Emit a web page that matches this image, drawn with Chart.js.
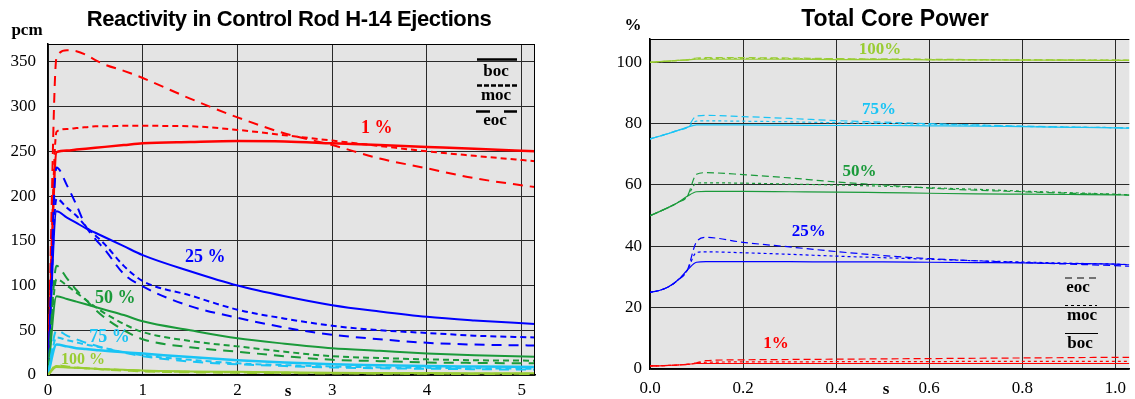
<!DOCTYPE html>
<html>
<head>
<meta charset="utf-8">
<script src="https://cdn.jsdelivr.net/npm/chart.js@4/dist/chart.umd.min.js"></script>
<style>
    body { margin: 0; background: #fff; }
    #wrap { position: relative; width: 1135px; height: 399px; }
    .box { position: absolute; top: 0; height: 399px; }
</style>
</head>
<body>
<div id="wrap">
    <div class="box" style="left:0;width:560px"><canvas id="react"></canvas></div>
    <div class="box" style="left:575px;width:560px"><canvas id="power"></canvas></div>
</div>
<script>
// time axis (s) of the reactivity chart
const reactTime = [0, 0.09, 0.2, 0.3, 0.4, 0.5, 0.6, 0.8, 1, 1.5, 2, 2.5, 3, 3.5, 4, 4.5, 5.14];

// reactivity (pcm) per power level, boc / moc / eoc
const r1boc   = [0, 249, 251, 252, 253, 254, 255, 257, 259, 260.5, 261.5, 261, 259, 257, 255, 253, 250];
const r1moc   = [0, 272, 275, 276, 277, 278, 278, 278.5, 278.5, 278, 274, 268, 262, 256, 250, 245, 239];
const r1eoc   = [0, 355, 363, 362, 358, 352, 347, 340, 332, 309, 288, 270, 257, 242, 231, 220, 210];
const r25boc  = [0, 183, 176, 170, 164, 159, 154, 144, 134, 116, 100, 88, 78, 71, 65, 61, 57];
const r25moc  = [0, 197, 187, 178, 166, 156, 146, 122, 105, 89, 73, 63, 55, 50, 47, 44, 42];
const r25eoc  = [0, 232, 212, 190, 166, 152, 140, 113, 99, 77, 64, 53, 45, 40, 36, 34, 33];
const r50boc  = [0, 88, 85, 82, 79, 76, 73, 67, 60, 50, 41, 35, 30, 27, 24, 22, 20.5];
const r50moc  = [0, 107, 100, 92, 84, 76, 69, 57, 48, 38, 32, 26, 21, 19, 17.5, 16.5, 16];
const r50eoc  = [0, 122, 108, 95, 84, 73, 64, 50, 40, 31, 26, 21, 17, 15.5, 14, 13.5, 13];
const r75boc  = [0, 34, 32, 30, 29, 28, 27, 25.5, 24, 20, 16.5, 14, 12, 11, 10, 9.5, 9];
const r75moc  = [0, 42, 39, 36.5, 34, 32, 30, 25.5, 22, 17, 13, 11, 9.5, 8.5, 8, 7.5, 7];
const r75eoc  = [0, 50, 44, 40, 36, 33, 30, 25, 21, 15, 12, 10, 8.5, 7.5, 7, 6.5, 6];
const r100boc = [0, 9, 8.5, 8, 7.5, 7, 6.5, 6, 5, 4, 3.5, 3, 2.5, 2.3, 2.1, 2, 2];
const r100moc = [0, 10, 9, 8, 7.5, 7, 6.5, 5.5, 4.5, 3.5, 3, 2.5, 2, 1.8, 1.6, 1.5, 1.5];
const r100eoc = [0, 11, 9.5, 8.5, 7.5, 7, 6, 5, 4, 3, 2.5, 2, 1.7, 1.5, 1.3, 1.2, 1.2];

// time axis (s) of the power chart
const powerTime = [0, 0.02, 0.04, 0.06, 0.08, 0.1, 0.12, 0.2, 0.3, 0.4, 0.5, 0.6, 0.7, 0.8, 0.9, 1.0, 1.03];

// total core power (%) per power level, boc / moc / eoc
const p100boc = [100, 100.2, 100.4, 100.6, 100.8, 101, 101, 101, 101, 100.9, 100.9, 100.8, 100.8, 100.7, 100.7, 100.6, 100.6];
const p100moc = [100, 100.2, 100.4, 100.6, 100.8, 101.2, 101.3, 101.3, 101.2, 101.1, 101, 100.9, 100.8, 100.8, 100.7, 100.7, 100.6];
const p100eoc = [100, 100.2, 100.4, 100.6, 100.8, 101.4, 101.5, 101.5, 101.4, 101.2, 101.1, 101, 100.9, 100.8, 100.8, 100.7, 100.7];
const p75boc  = [75, 75.9, 76.8, 77.8, 78.8, 79.6, 79.6, 79.6, 79.5, 79.4, 79.4, 79.3, 79.2, 79.0, 78.8, 78.6, 78.5];
const p75moc  = [75, 75.9, 76.8, 77.8, 78.8, 80.8, 80.9, 80.8, 80.6, 80.3, 80.1, 79.8, 79.5, 79.1, 78.9, 78.7, 78.6];
const p75eoc  = [75, 75.9, 76.8, 77.8, 78.8, 82.5, 82.7, 82.3, 81.7, 81.0, 80.5, 80.0, 79.6, 79.2, 78.9, 78.7, 78.6];
const p50boc  = [50, 51.3, 52.7, 54.3, 56.3, 57.8, 57.9, 57.9, 57.8, 57.7, 57.5, 57.3, 57.1, 57.0, 56.9, 56.8, 56.7];
const p50moc  = [50, 51.3, 52.7, 54.3, 56.3, 60.6, 60.7, 60.6, 60.3, 60.0, 59.6, 59.1, 58.6, 58.0, 57.5, 57.0, 56.8];
const p50eoc  = [50, 51.3, 52.7, 54.3, 56.3, 63.5, 64.0, 63.4, 62.3, 61.0, 60.0, 59.0, 58.3, 57.8, 57.3, 56.9, 56.7];
const p25boc  = [25, 25.6, 26.8, 29.0, 32.2, 34.8, 35, 35, 35, 34.9, 34.9, 34.8, 34.7, 34.6, 34.4, 34.2, 34.0];
const p25moc  = [25, 25.6, 26.8, 29.0, 32.2, 38.0, 38.2, 37.9, 37.4, 36.8, 36.3, 35.8, 35.3, 34.9, 34.5, 34.2, 34.0];
const p25eoc  = [25, 25.6, 26.8, 29.0, 32.2, 41.5, 42.9, 41.3, 39.8, 38.3, 37.0, 36.0, 35.3, 34.7, 34.2, 33.7, 33.5];
const p1boc   = [1, 1.05, 1.15, 1.3, 1.5, 1.8, 1.8, 1.8, 1.8, 1.8, 1.8, 1.8, 1.8, 1.8, 1.8, 1.8, 1.8];
const p1moc   = [1, 1.05, 1.15, 1.3, 1.5, 1.9, 2.2, 2.3, 2.3, 2.4, 2.4, 2.4, 2.5, 2.5, 2.5, 2.5, 2.5];
const p1eoc   = [1, 1.05, 1.15, 1.3, 1.5, 2.0, 2.7, 3.0, 3.1, 3.2, 3.3, 3.4, 3.5, 3.6, 3.7, 3.8, 3.8];

// tick values
const reactXTicks = [0, 1, 2, 3, 4, 5];
const reactYTicks = [0, 50, 100, 150, 200, 250, 300, 350];
const powerXTicks = [0, 0.2, 0.4, 0.6, 0.8, 1.0];
const powerYTicks = [0, 20, 40, 60, 80, 100];

const RED = "#ff0000", BLUE = "#0000ff", GREEN = "#1a9a3a", SKY = "#19c4f5", LIME = "#99cc33";
const SERIF = "'Liberation Serif', 'Times New Roman', serif";
const SANS = "'Liberation Sans', Arial, sans-serif";

function pts(time, vals) {
    return time.map((t, i) => ({ x: t, y: vals[i] }));
}

function line(time, vals, color, kind, width) {
    let dash = [];
    if (kind === "moc") dash = width > 1.5 ? [6, 4] : [3, 3];
    if (kind === "eoc") dash = width > 1.5 ? [10, 7] : [7, 4];
    return {
        data: pts(time, vals),
        borderColor: color,
        borderWidth: width,
        borderDash: dash,
        pointRadius: 0,
        fill: false,
        cubicInterpolationMode: "monotone"
    };
}

// gray plot area, frame, titles and hand placed labels
function decorPlugin(cfg) {
    return {
        id: "decor",
        beforeDraw(chart) {
            const a = chart.chartArea, ctx = chart.ctx;
            ctx.save();
            ctx.fillStyle = "#e4e4e4";
            ctx.fillRect(a.left, a.top, a.right - a.left, a.bottom - a.top);
            ctx.restore();
        },
        afterDraw(chart) {
            const a = chart.chartArea, ctx = chart.ctx;
            const xs = chart.scales.x, ys = chart.scales.y;
            ctx.save();
            ctx.strokeStyle = "#000";
            ctx.lineWidth = 1;
            ctx.beginPath();
            ctx.moveTo(a.left, a.top + 0.5);
            ctx.lineTo(a.right, a.top + 0.5);
            if (cfg.rightFrame) {
                ctx.moveTo(a.right - 0.5, a.top);
                ctx.lineTo(a.right - 0.5, a.bottom);
            }
            ctx.stroke();

            ctx.fillStyle = "#000";
            ctx.textAlign = "center";
            ctx.textBaseline = "middle";
            ctx.font = "bold " + cfg.titleSize + "px " + SANS;
            ctx.letterSpacing = cfg.titleSpacing;
            ctx.fillText(cfg.title, cfg.titleX, 20);
            ctx.letterSpacing = "0px";

            ctx.font = "bold 17px " + SERIF;
            ctx.fillText(cfg.unit, cfg.unitX, cfg.unitY);
            ctx.fillText("s", cfg.sX, cfg.sY);

            cfg.labels.forEach(l => {
                ctx.fillStyle = l.color;
                ctx.font = "bold " + l.size + "px " + SERIF;
                ctx.fillText(l.text, xs.getPixelForValue(l.x), ys.getPixelForValue(l.y));
            });

            cfg.legend.forEach(g => {
                ctx.fillStyle = "#000";
                ctx.font = "bold 17px " + SERIF;
                ctx.fillText(g.text, g.x, g.y);
                ctx.strokeStyle = "#000";
                ctx.lineWidth = g.lw;
                ctx.setLineDash(g.dash);
                ctx.beginPath();
                ctx.moveTo(g.x1, g.ly);
                ctx.lineTo(g.x2, g.ly);
                ctx.stroke();
            });
            ctx.restore();
        }
    };
}

function axes(xmax, ymax, xstep, ystep, xfmt, yWidth, yPad, xHeight, xPad) {
    const tickFont = { family: SERIF, size: 17 };
    return {
        x: {
            type: "linear", min: 0, max: xmax,
            ticks: { stepSize: xstep, includeBounds: false, font: tickFont, color: "#000", padding: xPad, maxRotation: 0, callback: xfmt },
            grid: { color: "#2a2a2a", lineWidth: 1, drawTicks: false },
            border: { color: "#000", width: 1.5 },
            afterFit(s) { s.height = xHeight; }
        },
        y: {
            type: "linear", min: 0, max: ymax,
            ticks: { stepSize: ystep, includeBounds: false, font: tickFont, color: "#000", padding: yPad },
            grid: { color: "#2a2a2a", lineWidth: 1, drawTicks: false },
            border: { color: "#000", width: 1.5 },
            afterFit(s) { s.width = yWidth; }
        }
    };
}

const commonOpts = {
    responsive: true,
    maintainAspectRatio: false,
    animation: false,
    plugins: { legend: { display: false }, tooltip: { enabled: false } }
};

const RW = 2;
new Chart(document.getElementById("react"), {
    type: "line",
    data: {
        datasets: [
            line(reactTime, r100eoc, LIME, "eoc", RW), line(reactTime, r100moc, LIME, "moc", RW), line(reactTime, r100boc, LIME, "boc", RW),
            line(reactTime, r75eoc, SKY, "eoc", RW), line(reactTime, r75moc, SKY, "moc", RW), line(reactTime, r75boc, SKY, "boc", 2.5),
            line(reactTime, r50eoc, GREEN, "eoc", RW), line(reactTime, r50moc, GREEN, "moc", RW), line(reactTime, r50boc, GREEN, "boc", RW),
            line(reactTime, r25eoc, BLUE, "eoc", RW), line(reactTime, r25moc, BLUE, "moc", RW), line(reactTime, r25boc, BLUE, "boc", RW),
            line(reactTime, r1eoc, RED, "eoc", RW), line(reactTime, r1moc, RED, "moc", RW), line(reactTime, r1boc, RED, "boc", 2.5)
        ]
    },
    options: Object.assign({}, commonOpts, {
        layout: { padding: { left: 0, right: 25, top: 44, bottom: 0 } },
        scales: axes(5.14, 370, 1, 50, v => String(v), 48, 12, 24, 5)
    }),
    plugins: [decorPlugin({
        title: "Reactivity in Control Rod H-14 Ejections", titleX: 289, titleSize: 22, titleSpacing: "-0.4px",
        unit: "pcm", unitX: 27, unitY: 31, sX: 288, sY: 392,
        rightFrame: true,
        labels: [
            { text: "1 %", x: 3.47, y: 276, color: RED, size: 18 },
            { text: "25 %", x: 1.66, y: 131, color: BLUE, size: 18 },
            { text: "50 %", x: 0.71, y: 86, color: GREEN, size: 18 },
            { text: "75 %", x: 0.65, y: 42.5, color: SKY, size: 18 },
            { text: "100 %", x: 0.37, y: 17, color: LIME, size: 16 }
        ],
        legend: [
            { text: "boc", x: 496, y: 72, x1: 477, x2: 517, ly: 59.5, lw: 2.5, dash: [] },
            { text: "moc", x: 496, y: 96, x1: 477, x2: 517, ly: 85.5, lw: 2.5, dash: [5, 2] },
            { text: "eoc", x: 495, y: 121, x1: 476, x2: 517, ly: 111.5, lw: 2.5, dash: [14, 14] }
        ]
    })]
});

const PW = 1.2;
new Chart(document.getElementById("power"), {
    type: "line",
    data: {
        datasets: [
            line(powerTime, p100eoc, LIME, "eoc", PW), line(powerTime, p100moc, LIME, "moc", PW), line(powerTime, p100boc, LIME, "boc", PW),
            line(powerTime, p75eoc, SKY, "eoc", PW), line(powerTime, p75moc, SKY, "moc", PW), line(powerTime, p75boc, SKY, "boc", PW),
            line(powerTime, p50eoc, GREEN, "eoc", PW), line(powerTime, p50moc, GREEN, "moc", PW), line(powerTime, p50boc, GREEN, "boc", PW),
            line(powerTime, p25eoc, BLUE, "eoc", PW), line(powerTime, p25moc, BLUE, "moc", PW), line(powerTime, p25boc, BLUE, "boc", PW),
            line(powerTime, p1eoc, RED, "eoc", PW), line(powerTime, p1moc, RED, "moc", PW), line(powerTime, p1boc, RED, "boc", PW)
        ]
    },
    options: Object.assign({}, commonOpts, {
        layout: { padding: { left: 0, right: 0, top: 39, bottom: 0 } },
        scales: axes(1.03, 107.6, 0.2, 20, v => Number(v).toFixed(1), 75, 8, 30, 9)
    }),
    plugins: [decorPlugin({
        title: "Total Core Power", titleX: 320, titleSize: 23, titleSpacing: "0px",
        unit: "%", unitX: 58, unitY: 26, sX: 311, sY: 390,
        rightFrame: false,
        labels: [
            { text: "100%", x: 0.494, y: 104.1, color: LIME, size: 17 },
            { text: "75%", x: 0.492, y: 84.6, color: SKY, size: 17 },
            { text: "50%", x: 0.45, y: 64.4, color: GREEN, size: 17 },
            { text: "25%", x: 0.341, y: 44.8, color: BLUE, size: 17 },
            { text: "1%", x: 0.271, y: 8.3, color: RED, size: 17 }
        ],
        legend: [
            { text: "eoc", x: 503, y: 288, x1: 490, x2: 521, ly: 278, lw: 1, dash: [7, 5] },
            { text: "moc", x: 507, y: 316, x1: 490, x2: 522, ly: 305.5, lw: 1, dash: [3, 3] },
            { text: "boc", x: 505, y: 344, x1: 490, x2: 523, ly: 333.5, lw: 1, dash: [] }
        ]
    })]
});
</script>
</body>
</html>
